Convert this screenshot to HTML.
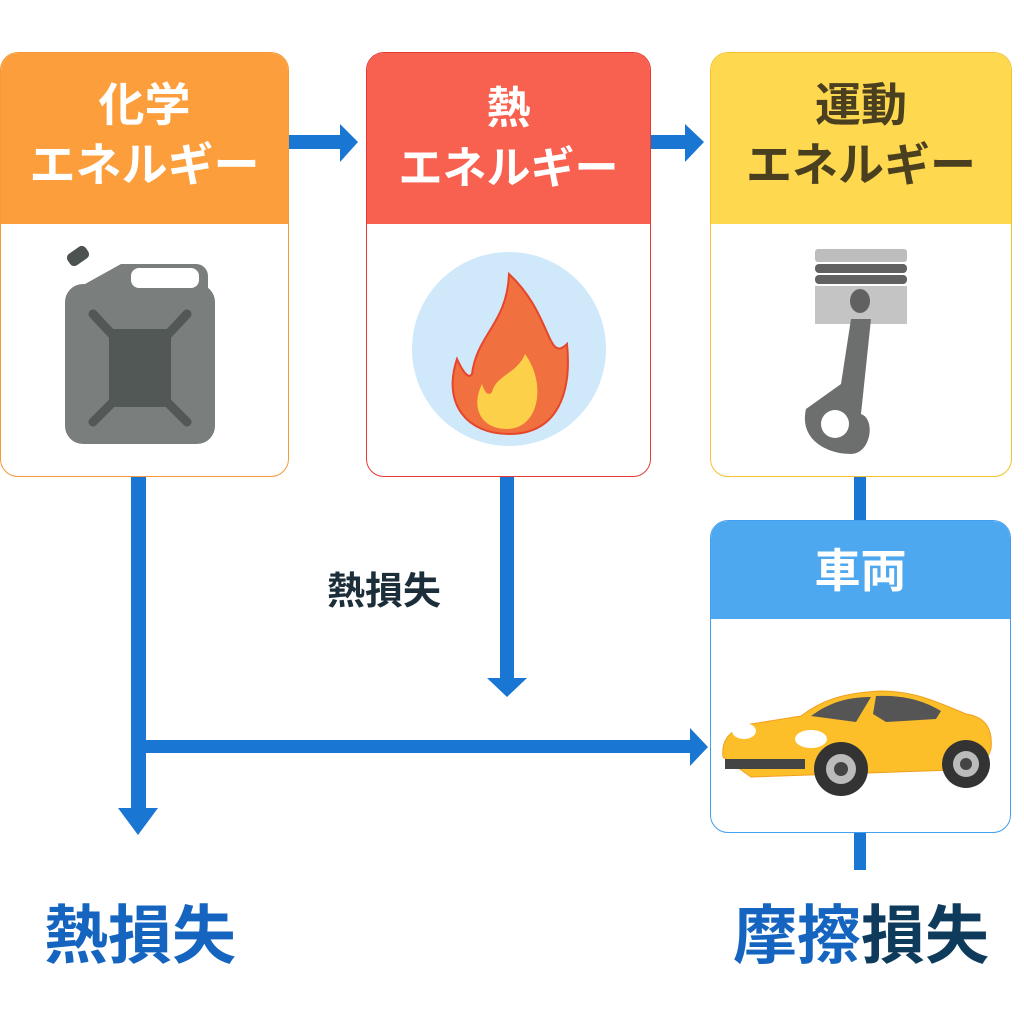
<!DOCTYPE html>
<html><head><meta charset="utf-8"><style>
body{margin:0;width:1024px;height:1024px;background:#fff;position:relative;overflow:hidden;font-family:"Liberation Sans","Noto Sans CJK JP",sans-serif;font-weight:bold}
.box{position:absolute;border-radius:18px;overflow:hidden;background:#fff;box-sizing:border-box}
.hd{position:absolute;left:0;right:0;top:0;text-align:center;font-size:46px;line-height:60px;box-sizing:border-box;padding-top:22px}
.t{position:absolute;white-space:nowrap}
</style></head><body>
<svg width="1024" height="1024" style="position:absolute;left:0;top:0">
<g fill="#1976d2">
<rect x="289" y="135" width="52" height="14"/><polygon points="340,124 358,142 340,162"/>
<rect x="650" y="135" width="37" height="14"/><polygon points="685,124 704,142 685,162"/>
<rect x="131" y="477" width="15" height="334"/><polygon points="118,808 158,808 138,835"/>
<rect x="138" y="740" width="555" height="13"/><polygon points="690,728 708,747 690,766"/>
<rect x="500" y="477" width="14" height="203"/><polygon points="487,678 527,678 507,697"/>
<rect x="854" y="477" width="12" height="45"/><rect x="854" y="830" width="12" height="40"/>
</g>
</svg>
<div class="box" style="left:0;top:52px;width:289px;height:425px;border:1.5px solid #f59a3a">
<div class="hd" style="height:171px;background:#fd9e3d;color:#fff">化学<br>エネルギー</div>
<svg style="position:absolute;left:0;top:171px" width="289" height="254">
<rect x="64" y="60" width="150" height="160" rx="18" fill="#7a7e7d"/>
<path d="M84 60 L120 40 H195 a12 12 0 0 1 12 12 V70 Z" fill="#7a7e7d"/>
<rect x="130" y="44" width="68" height="20" rx="8" fill="#fff"/>
<rect x="66" y="25" width="22" height="14" rx="5" transform="rotate(-35 77 32)" fill="#4c5250"/>
<rect x="108" y="105" width="62" height="78" fill="#525856"/>
<path d="M92 90 L120 120 M186 90 L158 120 M92 198 L120 170 M186 198 L158 170" stroke="#525856" stroke-width="9" stroke-linecap="round"/>
</svg></div>
<div class="box" style="left:366px;top:52px;width:285px;height:425px;border:1.5px solid #e53935">
<div class="hd" style="height:171px;background:#f86050;color:#fff;padding-top:26px;font-size:44px">熱<br>エネルギー</div>
<svg style="position:absolute;left:0;top:171px" width="285" height="254">
<ellipse cx="142" cy="125" rx="97" ry="97" fill="#cfe9fb"/>
<path d="M142 50 C185 90 180 140 200 120 C205 170 190 210 142 210 C100 210 75 180 90 135 C97 150 102 155 105 150 C110 110 140 100 142 50Z" fill="#f07040" stroke="#e5462a" stroke-width="2"/>
<path d="M158 130 C180 160 172 205 140 205 C115 205 103 185 115 160 C118 170 122 172 125 168 C130 150 150 150 158 130Z" fill="#fdd04a"/>
</svg></div>
<div class="box" style="left:710px;top:52px;width:302px;height:425px;border:1.5px solid #f4c22f">
<div class="hd" style="height:171px;background:#fed84e;color:#4a4020">運動<br>エネルギー</div>
<svg style="position:absolute;left:0;top:171px" width="302" height="254">
<rect x="104" y="25" width="92" height="13" rx="3" fill="#bdbdbd"/>
<rect x="104" y="40" width="92" height="9" rx="4" fill="#616161"/>
<rect x="104" y="51" width="92" height="9" rx="4" fill="#616161"/>
<rect x="104" y="62" width="92" height="38" fill="#c4c4c4"/>
<ellipse cx="149" cy="77" rx="10" ry="12" fill="#616161"/>
<path d="M140 95 L160 95 L150 190 C165 195 160 230 140 230 C115 230 88 215 95 185 L130 160 Z" fill="#6d6f6f"/>
<circle cx="124" cy="200" r="14" fill="#fff"/>
</svg></div>
<div class="box" style="left:710px;top:520px;width:301px;height:313px;border:1.5px solid #42a0ee">
<div class="hd" style="height:98px;background:#4ea8ef;color:#fff;padding-top:20px">車両</div>
<svg style="position:absolute;left:0;top:98px" width="301" height="215">
<path d="M12 138 C10 120 20 110 40 105 L90 97 C110 82 130 74 170 72 C200 72 220 80 255 95 C275 98 282 110 280 130 L272 150 L40 158 Z" fill="#fcbf2a" stroke="#f0a020" stroke-width="1"/>
<path d="M100 97 C120 82 140 78 160 78 L145 103 Z" fill="#555"/>
<path d="M165 77 C190 76 210 80 230 92 L225 100 L175 103 L162 95 Z" fill="#555"/>
<ellipse cx="33" cy="112" rx="12" ry="8" fill="#fff"/><ellipse cx="100" cy="120" rx="16" ry="9" fill="#fff"/>
<rect x="14" y="140" width="80" height="10" fill="#444"/>
<circle cx="130" cy="150" r="27" fill="#333"/><circle cx="130" cy="150" r="15" fill="#bbb"/><circle cx="130" cy="150" r="7" fill="#444"/>
<circle cx="255" cy="145" r="24" fill="#333"/><circle cx="255" cy="145" r="13" fill="#bbb"/><circle cx="255" cy="145" r="6" fill="#444"/>
</svg></div>
<div class="t" style="left:327px;top:560px;font-size:38px;color:#1c2e3a">熱損失</div>
<div class="t" style="left:44px;top:885px;font-size:64px;color:#1565c0">熱損失</div>
<div class="t" style="left:733px;top:885px;font-size:64px;color:#1565c0">摩擦<span style="color:#0e3b5c">損失</span></div>
</body></html>
